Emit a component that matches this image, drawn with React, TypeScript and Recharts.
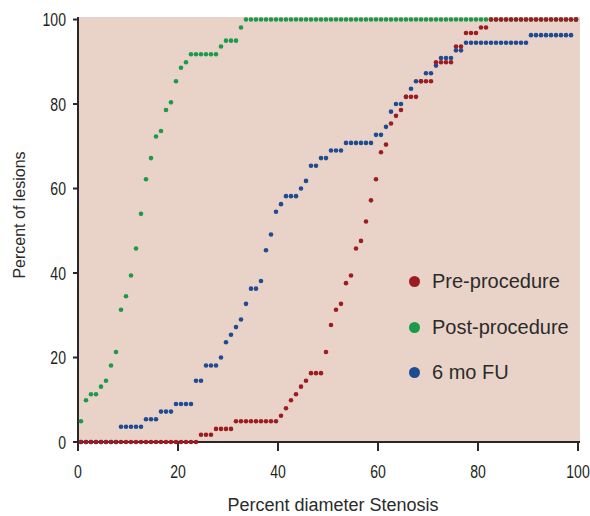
import { ScatterChart, Scatter, XAxis, YAxis, CartesianGrid } from 'recharts';

// percent diameter stenosis: one lesion step per position
const stenosis = [
  0.6, 1.6, 2.6, 3.6, 4.6, 5.6, 6.6, 7.6, 8.6, 9.6,
  10.6, 11.6, 12.6, 13.6, 14.6, 15.6, 16.6, 17.6, 18.6, 19.6,
  20.6, 21.6, 22.6, 23.6, 24.6, 25.6, 26.6, 27.6, 28.6, 29.6,
  30.6, 31.6, 32.6, 33.6, 34.6, 35.6, 36.6, 37.6, 38.6, 39.6,
  40.6, 41.6, 42.6, 43.6, 44.6, 45.6, 46.6, 47.6, 48.6, 49.6,
  50.6, 51.6, 52.6, 53.6, 54.6, 55.6, 56.6, 57.6, 58.6, 59.6,
  60.6, 61.6, 62.6, 63.6, 64.6, 65.6, 66.6, 67.6, 68.6, 69.6,
  70.6, 71.6, 72.6, 73.6, 74.6, 75.6, 76.6, 77.6, 78.6, 79.6,
  80.6, 81.6, 82.6, 83.6, 84.6, 85.6, 86.6, 87.6, 88.6, 89.6,
  90.6, 91.6, 92.6, 93.6, 94.6, 95.6, 96.6, 97.6, 98.6, 99.6,
];

const preProcedure = [
  0, 0, 0, 0, 0, 0, 0, 0, 0, 0,
  0, 0, 0, 0, 0, 0, 0, 0, 0, 0,
  0, 0, 0, 0, 1.7, 1.7, 1.7, 3.1, 3.1, 3.1,
  3.1, 4.9, 4.9, 4.9, 4.9, 4.9, 4.9, 4.9, 4.9, 4.9,
  6.2, 8.0, 9.9, 11.3, 13.1, 14.5, 16.3, 16.3, 16.3, 21.3,
  27.7, 31.3, 32.7, 37.6, 39.4, 45.8, 47.6, 52.2, 57.2, 62.2,
  68.6, 70.4, 75.4, 77.2, 78.6, 81.7, 81.7, 81.7, 85.4, 85.4,
  85.4, 89.9, 89.9, 89.9, 89.9, 93.6, 93.6, 96.8, 96.8, 96.8,
  98.1, 98.1, 100, 100, 100, 100, 100, 100, 100, 100,
  100, 100, 100, 100, 100, 100, 100, 100, 100, 100,
];

const postProcedure = [
  4.9, 9.9, 11.3, 11.3, 13.1, 14.5, 18.1, 21.3, 31.3, 34.5,
  39.4, 45.8, 54.0, 62.2, 67.2, 72.3, 73.6, 78.6, 80.4, 85.4,
  88.6, 89.9, 91.8, 91.8, 91.8, 91.8, 91.8, 91.8, 93.6, 95.0,
  95.0, 95.0, 98.1, 100, 100, 100, 100, 100, 100, 100,
  100, 100, 100, 100, 100, 100, 100, 100, 100, 100,
  100, 100, 100, 100, 100, 100, 100, 100, 100, 100,
  100, 100, 100, 100, 100, 100, 100, 100, 100, 100,
  100, 100, 100, 100, 100, 100, 100, 100, 100, 100,
  100, 100, 100, 100, 100, 100, 100, 100, 100, 100,
  100, 100, 100, 100, 100, 100, 100, 100, 100, 100,
];

const sixMonthFU = [
  0, 0, 0, 0, 0, 0, 0, 0, 3.6, 3.6,
  3.6, 3.6, 3.6, 5.4, 5.4, 5.4, 7.2, 7.2, 7.2, 9.0,
  9.0, 9.0, 9.0, 14.5, 14.5, 18.1, 18.1, 18.1, 20.0, 23.6,
  25.4, 27.2, 29.0, 32.7, 36.3, 36.3, 38.1, 45.4, 49.1, 54.5,
  56.3, 58.2, 58.2, 58.2, 60.0, 61.8, 65.4, 65.4, 67.2, 67.2,
  69.0, 69.0, 69.0, 70.8, 70.8, 70.8, 70.8, 70.8, 70.8, 72.7,
  72.7, 74.6, 78.2, 80.0, 80.0, 81.7, 83.6, 85.4, 85.4, 87.3,
  87.3, 89.1, 90.9, 90.9, 90.9, 92.7, 92.7, 94.5, 94.5, 94.5,
  94.5, 94.5, 94.5, 94.5, 94.5, 94.5, 94.5, 94.5, 94.5, 94.5,
  96.3, 96.3, 96.3, 96.3, 96.3, 96.3, 96.3, 96.3, 96.3, 100,
];

const xTicks = [0, 20, 40, 60, 80, 100];
const yTicks = [0, 20, 40, 60, 80, 100];

const series = [
  { name: 'Pre-procedure', values: preProcedure, color: '#9d1c22' },
  { name: 'Post-procedure', values: postProcedure, color: '#1a9b4b' },
  { name: '6 mo FU', values: sixMonthFU, color: '#1f4b93' },
];

const textFont = "'Liberation Sans', Arial, sans-serif";

function dot(color: string) {
  return (props: any) => <circle cx={props.cx} cy={props.cy} r={2.3} fill={color} />;
}

// condensed look for the tick numbers
function XTick({ x, y, payload }: any) {
  return (
    <text
      transform={`translate(${x},${y + 13}) scale(0.76,1)`}
      textAnchor="middle"
      fill="#231f20"
      fontSize={18.5}
      fontFamily={textFont}
    >
      {payload.value}
    </text>
  );
}

function YTick({ x, y, payload }: any) {
  return (
    <text
      transform={`translate(${x},${y + 6.5}) scale(0.76,1)`}
      textAnchor="end"
      fill="#231f20"
      fontSize={18.5}
      fontFamily={textFont}
    >
      {payload.value}
    </text>
  );
}

function LegendBox() {
  return (
    <div
      style={{
        position: 'absolute',
        left: 409,
        top: 259,
        fontFamily: textFont,
        fontSize: 20,
        color: '#2b2b2b',
      }}
    >
      {series.map((s) => (
        <div key={s.name} style={{ display: 'flex', alignItems: 'center', height: 45.5 }}>
          <span style={{ width: 11, height: 11, borderRadius: '50%', background: s.color, marginRight: 12 }} />
          <span>{s.name}</span>
        </div>
      ))}
    </div>
  );
}

export default function App() {
  // draw order: green, blue, red on top
  const drawOrder = [series[1], series[2], series[0]];

  return (
    <div style={{ position: 'absolute', left: 0, top: 0, width: 590, height: 516 }}>
      <ScatterChart width={590} height={516} margin={{ top: 17, right: 10, bottom: 0, left: 0 }}>
        <CartesianGrid fill="#e9d3c8" stroke="none" horizontal={false} vertical={false} />
        <XAxis
          type="number"
          dataKey="x"
          domain={[0, 100.4]}
          ticks={xTicks}
          height={74}
          axisLine={{ stroke: '#2b2627', strokeWidth: 2 }}
          tickLine={{ stroke: '#2b2627', strokeWidth: 2 }}
          tickSize={9}
          tickMargin={14}
          tick={<XTick />}
          label={{
            value: 'Percent diameter Stenosis',
            position: 'insideBottom',
            offset: 5,
            dx: 4,
            fill: '#2b2b2b',
            fontSize: 18,
            fontFamily: textFont,
          }}
        />
        <YAxis
          type="number"
          dataKey="y"
          domain={[0, 100.6]}
          ticks={yTicks}
          width={78}
          axisLine={{ stroke: '#2b2627', strokeWidth: 2 }}
          tickLine={{ stroke: '#2b2627', strokeWidth: 2 }}
          tickSize={5}
          tickMargin={7}
          tick={<YTick />}
          label={{
            content: () => (
              <text
                transform="translate(25,215) rotate(-90)"
                textAnchor="middle"
                fill="#2b2b2b"
                fontSize={16}
                fontFamily={textFont}
              >
                Percent of lesions
              </text>
            ),
          }}
        />
        {drawOrder.map((s) => (
          <Scatter
            key={s.name}
            name={s.name}
            data={stenosis.map((x, i) => ({ x, y: s.values[i] }))}
            fill={s.color}
            shape={dot(s.color)}
            isAnimationActive={false}
          />
        ))}
      </ScatterChart>
      <LegendBox />
    </div>
  );
}
